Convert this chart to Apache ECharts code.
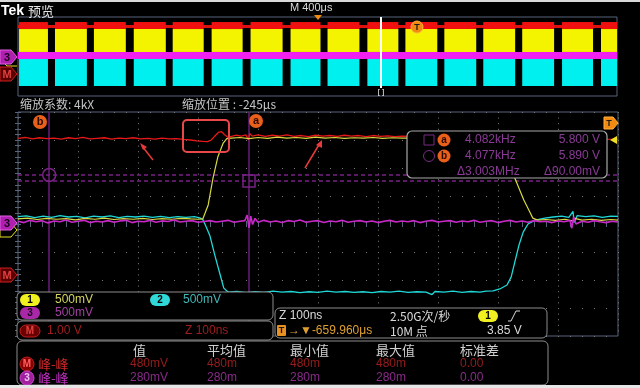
<!DOCTYPE html>
<html><head><meta charset="utf-8">
<script src="https://cdn.jsdelivr.net/npm/echarts@6/dist/echarts.min.js"></script>
<style>html,body{margin:0;padding:0;background:#000;overflow:hidden}#c{width:640px;height:388px}</style>
</head><body><div id="c"></div><script>
// ---------- DATA ----------
// Overview record (M 400us/div, 0..4000 us): burst [start, end] in us
const overviewBursts = [[7,200],[247,460],[507,720],[773,987],[1033,1240],[1293,1500],[1553,1767],[1820,2020],[2067,2280],[2333,2540],[2587,2800],[2847,3060],[3107,3320],[3367,3580],[3633,3840],[3893,4000]];
// Overview band levels [low, high] in divisions
const ovRedBurst = [2.78, 3.49];
const ovRedIdle = [2.89, 3.19];
const ovYellow = [0.46, 2.78];
const ovMagenta = [-0.25, 0.46];
const ovCyan = [-2.99, -0.25];

// Zoomed view (Z 100ns/div, 0..1000 ns), values in divisions
const mathM = [[0,3.06],[12,3.09],[24,3.04],[36,3.08],[48,3.05],[60,3.07],[72,3.03],[84,3.08],[96,3.05],[108,3.09],[120,3.04],[132,3.06],[144,3.08],[156,3.03],[168,3.07],[180,3.05],[192,3.08],[204,3.04],[216,3.06],[228,3.03],[240,3.07],[252,3.04],[264,3.05],[276,3.02],[288,3.0],[298,2.97],[308,2.95],[316,2.94],[322,3.0],[328,3.14],[334,3.27],[339,3.3],[344,3.2],[350,3.09],[356,3.13],[364,3.17],[372,3.14],[380,3.18],[384,3.0],[386,3.23],[390,3.14],[400,3.18],[412,3.13],[424,3.17],[436,3.14],[448,3.18],[460,3.13],[472,3.16],[484,3.12],[496,3.17],[508,3.14],[520,3.16],[532,3.13],[544,3.17],[556,3.14],[568,3.16],[580,3.12],[592,3.16],[604,3.13],[616,3.15],[628,3.12],[640,3.14],[680,3.12],[720,3.13],[760,3.1],[800,3.11],[840,3.08],[880,3.09],[920,3.06],[960,3.05],[980,3.03],[1000,3.02]];
const ch1 = [[0,0.18],[16,0.21],[32,0.16],[48,0.2],[64,0.17],[80,0.19],[96,0.15],[112,0.2],[128,0.17],[144,0.21],[160,0.16],[176,0.19],[192,0.17],[208,0.2],[224,0.16],[240,0.19],[256,0.17],[272,0.2],[288,0.18],[300,0.17],[308,0.18],[317,0.68],[325,1.64],[333,2.39],[342,2.89],[348,3.05],[356,3.07],[370,3.09],[385,3.05],[400,3.09],[416,3.06],[432,3.1],[448,3.07],[464,3.09],[480,3.06],[496,3.1],[512,3.07],[528,3.09],[544,3.06],[560,3.08],[576,3.07],[592,3.09],[608,3.06],[624,3.08],[640,3.07],[680,3.07],[720,3.06],[760,3.05],[795,3.03],[810,2.6],[822,2.0],[828,1.64],[843,0.86],[853,0.43],[858,0.21],[866,0.14],[880,0.16],[896,0.13],[912,0.17],[925,0.1],[928,0.2],[940,0.14],[956,0.17],[972,0.13],[988,0.16],[1000,0.14]];
const ch2 = [[0,0.26],[14,0.29],[28,0.23],[42,0.28],[56,0.24],[70,0.3],[84,0.25],[98,0.27],[112,0.22],[126,0.28],[140,0.25],[154,0.29],[168,0.23],[182,0.27],[196,0.25],[210,0.28],[224,0.24],[238,0.27],[252,0.23],[266,0.26],[280,0.24],[294,0.26],[303,0.22],[308,0.16],[313,-0.07],[320,-0.43],[328,-1.11],[337,-1.82],[343,-2.29],[350,-2.43],[365,-2.41],[380,-2.45],[395,-2.42],[410,-2.44],[425,-2.4],[440,-2.43],[455,-2.41],[470,-2.45],[485,-2.42],[500,-2.44],[515,-2.4],[530,-2.43],[545,-2.41],[560,-2.44],[575,-2.42],[590,-2.45],[605,-2.41],[620,-2.43],[635,-2.4],[650,-2.44],[665,-2.42],[680,-2.43],[690,-2.52],[695,-2.41],[710,-2.43],[725,-2.4],[740,-2.44],[755,-2.41],[770,-2.43],[780,-2.4],[792,-2.39],[803,-2.32],[815,-2.18],[822,-1.89],[828,-1.36],[835,-0.75],[842,-0.29],[850,0],[862,0.14],[878,0.21],[892,0.25],[906,0.28],[918,0.24],[925,0.45],[927,0.05],[932,0.3],[946,0.26],[960,0.29],[974,0.24],[988,0.28],[1000,0.27]];
const ch3 = [[0,0.1],[10,0.05],[20,0.13],[30,0.08],[40,0.12],[50,0.04],[60,0.11],[70,0.08],[80,0.14],[90,0.06],[100,0.1],[110,0.13],[120,0.05],[130,0.1],[140,0.07],[150,0.12],[160,0.06],[170,0.11],[180,0.13],[190,0.05],[200,0.1],[210,0.08],[220,0.13],[230,0.06],[240,0.11],[250,0.09],[260,0.14],[270,0.07],[280,0.1],[290,0.12],[300,0.06],[310,0.09],[320,0.12],[330,0.07],[340,0.1],[350,0.13],[360,0.06],[370,0.1],[378,0.12],[382,0.32],[385,-0.14],[388,0.28],[391,-0.02],[395,0.2],[400,0.06],[410,0.13],[420,0.07],[430,0.11],[440,0.05],[450,0.12],[460,0.09],[470,0.14],[480,0.06],[490,0.1],[500,0.12],[510,0.05],[520,0.11],[530,0.08],[540,0.13],[550,0.06],[560,0.1],[570,0.12],[580,0.07],[590,0.11],[600,0.05],[610,0.1],[620,0.13],[630,0.07],[640,0.11],[650,0.08],[660,0.12],[670,0.05],[680,0.1],[690,0.13],[700,0.07],[710,0.1],[720,0.12],[730,0.06],[740,0.11],[750,0.08],[760,0.13],[770,0.06],[780,0.1],[790,0.12],[800,0.05],[810,0.1],[820,0.13],[830,0.07],[840,0.11],[850,0.06],[860,0.12],[870,0.08],[880,0.1],[890,0.05],[900,0.11],[910,0.08],[920,0.13],[923,-0.15],[926,0.25],[930,0.0],[940,0.1],[950,0.06],[960,0.12],[970,0.08],[980,0.05],[990,0.1],[1000,0.07]];
// Cursors: vertical (ns) and horizontal (div)
const cursorB_t = 52, cursorA_t = 385;
const cursorB_v = 1.75, cursorA_v = 1.54;
// Readouts
const cursorRows = [['4.082kHz','5.800 V'],['4.077kHz','5.890 V']];
const cursorDelta = ['Δ3.003MHz','Δ90.00mV'];
const measHeaders = ['值','平均值','最小值','最大值','标准差'];
const measM = ['480mV','480m','480m','480m','0.00'];
const meas3 = ['280mV','280m','280m','280m','0.00'];

// ---------- CHART ----------
const chart = echarts.init(document.getElementById('c'), null, {renderer:'canvas', width:640, height:388});
const LAT = '"Liberation Sans","Noto Sans CJK SC",sans-serif';
const CJK = '"Noto Sans CJK SC","Liberation Sans",sans-serif';
const gridCol = '#56657a', dotCol = '#7c7c7c';
const PURPLE = '#7a2a86';

function bandRender(color){
  return function(params, api){
    const p0 = api.coord([api.value(0), api.value(3)]);
    const p1 = api.coord([api.value(1), api.value(2)]);
    return {type:'rect', shape:{x:p0[0], y:p0[1], width:p1[0]-p0[0], height:p1[1]-p0[1]}, style:{fill:color}};
  };
}
function band(data, color, z){
  return {type:'custom', xAxisIndex:0, yAxisIndex:0, renderItem:bandRender(color), data, clip:true, silent:true, z, encode:{x:[0,1], y:[2,3]}};
}
function trace(data, color, w, z){
  return {type:'line', xAxisIndex:1, yAxisIndex:1, data, showSymbol:false, symbol:'none', lineStyle:{color, width:w}, itemStyle:{color}, z, silent:true, animation:false};
}
const tickStyle = {color:gridCol, width:1};
function mainAxis(pos, isX){
  const a = {gridIndex:1, type:'value', position:pos,
    axisLine:{show:false}, axisLabel:{show:false},
    axisTick:{show:true, inside:true, length:3, lineStyle:tickStyle},
    minorTick:{show:true, splitNumber:5, length:3, lineStyle:tickStyle},
    splitLine:{show:false}};
  if (isX){ a.min=0; a.max=1000; a.interval=100; } else { a.min=-4; a.max=4; a.interval=1; }
  return a;
}
const xMainB = mainAxis('bottom', true);
xMainB.splitLine = {show:true, lineStyle:{color:dotCol, width:1, type:[1,4.6]}};
const yMainL = mainAxis('left', false);
yMainL.splitLine = {show:true, lineStyle:{color:dotCol, width:1, type:[1,11]}};

// text helpers
const G = [];
function T(s, x, y, fill, font, align, z){
  G.push({type:'text', x, y, z:z||110, silent:true, style:{text:s, fill, font, textAlign:align||'left', textVerticalAlign:'middle', align:align||'left', verticalAlign:'middle'}});
}
function R(x,y,w,h,r,fill,stroke,lw,z){
  G.push({type:'rect', z:z||100, silent:true, shape:{x,y,width:w,height:h,r:r||0}, style:{fill:fill||'none', stroke:stroke||'none', lineWidth:lw||1}});
}
function P(points, fill, stroke, z, lw){
  G.push({type:'polygon', z:z||105, silent:true, shape:{points}, style:{fill:fill||'none', stroke:stroke||'none', lineWidth:lw||1}});
}
function L(points, stroke, lw, z, dash){
  G.push({type:'polyline', z:z||105, silent:true, shape:{points}, style:{stroke, lineWidth:lw||1, fill:'none', lineDash:dash||null}});
}
function C(cx,cy,r,fill,stroke,z){
  G.push({type:'circle', z:z||105, silent:true, shape:{cx,cy,r}, style:{fill:fill||'none', stroke:stroke||'none', lineWidth:1}});
}
function pill(x,y,w,h,fill,label,tcol,stroke){
  R(x,y,w,h,h/2,fill,stroke||'none',1,106);
  T(label, x+w/2, y+h/2+0.5, tcol, 'bold 10px '+LAT, 'center', 107);
}
function marker(cy, fill, stroke, label, tcol){
  P([[0,cy-7],[11,cy-7],[17,cy],[11,cy+7],[0,cy+7]], fill, stroke, 108);
  if (label) T(label, 7, cy+0.5, tcol, 'bold 11px '+LAT, 'center', 109);
}

// frame strips
R(0,0,640,2,0,'#d9d9d9',null,1,120);
R(0,385,640,3,0,'#e6e6e6',null,1,120);
// header
T('Tek', 1, 11, '#ffffff', 'bold 14px '+LAT, 'left');
T('预览', 28, 11, '#e6e6e6', '13px '+CJK, 'left');
T('M 400μs', 290, 8, '#d8d8d8', '11px '+LAT, 'left');
P([[314,15],[322,15],[318,20]], '#f08a10', null, 110);
// overview markers
L([[381,17],[381,88]], '#ffffff', 2, 110);
T('[ ]', 381, 92, '#ffffff', '8px '+LAT, 'center');
C(417,27,6,'#f08a10','#ffb040',110);
T('T', 417, 27.5, '#1a1a1a', 'bold 9px '+LAT, 'center', 111);
marker(57, '#b020b0', '#e060e0', '3', '#1a001a');
L([[3,62],[7,66],[17,66]], '#e8e020', 1, 107);
marker(74, '#5a0000', '#d02020', 'M', '#e04040');
// zoom info
T('缩放系数: 4kX', 20, 104, '#c4c4c4', '12px '+CJK, 'left');
T('缩放位置 : -245μs', 182, 104, '#c4c4c4', '12px '+CJK, 'left');
// main markers
P([[0,223],[11,223],[17,230],[11,237],[0,237]], '#000', '#e8e020', 107);
marker(223, '#b020b0', '#e060e0', '3', '#1a001a');
marker(275, '#5a0000', '#d02020', 'M', '#e04040');
P([[604,117],[613,117],[618,123],[613,129],[604,129]], '#f08a10', '#ffb040', 110);
T('T', 609, 123.5, '#1a1a1a', 'bold 9px '+LAT, 'center', 111);
P([[610,140],[617,136],[617,144]], '#f0e020', null, 110);
// cursor labels
C(40,122,7,'#e8601a',null,110); T('b', 40, 122, '#2a0a00', 'bold 11px '+LAT, 'center', 111);
C(256,121,7,'#e8601a',null,110); T('a', 256, 121, '#2a0a00', 'bold 11px '+LAT, 'center', 111);
// annotation box & arrows
R(183,120,46,32,4,'none','#e84848',2,110);
L([[153,160],[142,146]], '#e83a3a', 1.5, 110);
P([[140,143],[147,147],[143,150]], '#e83a3a', null, 110);
L([[305,168],[320,143]], '#e83a3a', 1.5, 110);
P([[322,140],[322,148],[316,145]], '#e83a3a', null, 110);
// cursor readout box
R(407,131,200,47,5,'#000','#a8a8a8',1.2,100);
R(424,135,10,10,0,'none',PURPLE,1,106);
C(429,156,5.5,'none',PURPLE,106);
C(444,140,6.5,'#e8601a',null,106); T('a',444,140,'#2a0a00','bold 10px '+LAT,'center',107);
C(444,156,6.5,'#e8601a',null,106); T('b',444,156,'#2a0a00','bold 10px '+LAT,'center',107);
T(cursorRows[0][0], 465, 140, '#8a3a96', '12px '+LAT);
T(cursorRows[0][1], 600, 140, '#8a3a96', '12px '+LAT, 'right');
T(cursorRows[1][0], 465, 156, '#8a3a96', '12px '+LAT);
T(cursorRows[1][1], 600, 156, '#8a3a96', '12px '+LAT, 'right');
T(cursorDelta[0], 457, 172, '#8a3a96', '12px '+LAT);
T(cursorDelta[1], 600, 172, '#8a3a96', '12px '+LAT, 'right');
// channel panel
R(17,292,256,28,5,'#000','#8c8c8c',1,100);
pill(20,294,20,12,'#f0f020','1','#000');
T('500mV', 55, 300, '#d4d460', '12px '+LAT);
pill(150,294,20,12,'#30d8d8','2','#000');
T('500mV', 183, 300, '#40b8b8', '12px '+LAT);
pill(20,307,20,12,'#a828a8','3','#1a001a');
T('500mV', 55, 313, '#a040a0', '12px '+LAT);
R(17,321,256,19,5,'#000','#8c8c8c',1,100);
pill(20,325,20,12,'#6a0000','M','#e04040','#c02020');
T('1.00 V', 47, 331, '#a01c1c', '12px '+LAT);
T('Z 100ns', 185, 331, '#a01c1c', '12px '+LAT);
// timebase panel
R(275,308,272,30,5,'#000','#8c8c8c',1,100);
T('Z 100ns', 279, 316, '#d8d8d8', '12px '+LAT);
T('2.50G次/秒', 390, 316, '#d8d8d8', '12px '+CJK);
pill(478,310,20,12,'#f0f020','1','#000');
L([[508,321],[511,321],[516,311],[520,311]], '#d8d8d8', 1, 107);
R(277,325,9,11,1,'#e89020',null,1,106);
T('T', 281.5, 330.5, '#1a1a1a', 'bold 9px '+LAT, 'center', 107);
T('→▼-659.960μs', 288, 331, '#e0a030', '12px '+LAT);
T('10M 点', 390, 331, '#d8d8d8', '12px '+CJK);
T('3.85 V', 487, 331, '#d8d8d8', '12px '+LAT);
// measurement panel
R(17,341,531,44,5,'#000','#8c8c8c',1,100);
const colX = [130,207,290,376,460];
measHeaders.forEach((h,i)=>T(h, colX[i]+(i===0?3:0), 350, '#d0d0d0', '13px '+CJK));
C(27,364,7,'#8a0000','#c02020',106); T('M',27,364.5,'#ff6060','bold 10px '+LAT,'center',107);
T('峰-峰', 38, 364, '#d02828', '13px '+CJK);
measM.forEach((v,i)=>T(v, colX[i], 364, '#9a1c1c', '12px '+LAT));
C(27,378,7,'#a020a0','#d040d0',106); T('3',27,378.5,'#f0c0f0','bold 10px '+LAT,'center',107);
T('峰-峰', 38, 378, '#c030c0', '13px '+CJK);
meas3.forEach((v,i)=>T(v, colX[i], 378, '#8a2a8a', '12px '+LAT));

const option = {
  backgroundColor:'#000',
  animation:false,
  grid:[
    {left:18, top:17, width:599, height:79, show:true, borderColor:gridCol, borderWidth:1, backgroundColor:'transparent'},
    {left:18, top:112, width:600, height:224, show:true, borderColor:gridCol, borderWidth:1, backgroundColor:'transparent'}
  ],
  xAxis:[
    {gridIndex:0, type:'value', min:0, max:4000, show:false},
    xMainB,
    mainAxis('top', true)
  ],
  yAxis:[
    {gridIndex:0, type:'value', min:-4, max:4, show:false},
    yMainL,
    mainAxis('right', false)
  ],
  series:[
    band([[0,4000,ovRedIdle[0],ovRedIdle[1]]], '#e01010', 2),
    band(overviewBursts.map(b=>[b[0],b[1],ovRedBurst[0],ovRedBurst[1]]), '#f01010', 3),
    band(overviewBursts.map(b=>[b[0],b[1],ovYellow[0],ovYellow[1]]), '#f4f400', 3),
    band(overviewBursts.map(b=>[b[0],b[1],ovCyan[0],ovCyan[1]]), '#00f0f0', 3),
    band([[0,4000,ovMagenta[0],ovMagenta[1]]], '#f020f0', 4),
    trace(mathM, '#e81818', 1.3, 5),
    trace(ch2, '#20d8d8', 1.3, 6),
    trace(ch1, '#d8d840', 1.2, 7),
    trace(ch3, '#c828c8', 1.6, 8),
    {type:'line', xAxisIndex:1, yAxisIndex:1, data:[], silent:true, z:4,
      markLine:{silent:true, symbol:'none', label:{show:false}, animation:false,
        data:[
          {xAxis:cursorB_t, lineStyle:{color:'#6a1c78', width:1.5, type:'solid'}},
          {xAxis:cursorA_t, lineStyle:{color:'#6a1c78', width:1.5, type:'solid'}},
          {yAxis:cursorB_v, lineStyle:{color:'#7a2286', width:1.5, type:[4,3]}},
          {yAxis:cursorA_v, lineStyle:{color:'#7a2286', width:1.5, type:[4,3]}}
        ]},
      markPoint:{silent:true, label:{show:false}, animation:false,
        data:[
          {coord:[cursorB_t,cursorB_v], symbol:'circle', symbolSize:13, itemStyle:{color:'rgba(0,0,0,0)', borderColor:'#7a2286', borderWidth:1.5}},
          {coord:[cursorA_t,cursorA_v], symbol:'rect', symbolSize:12, itemStyle:{color:'rgba(0,0,0,0)', borderColor:'#7a2286', borderWidth:1.5}}
        ]}
    }
  ],
  graphic:{elements:G}
};
chart.setOption(option);
</script></body></html>
